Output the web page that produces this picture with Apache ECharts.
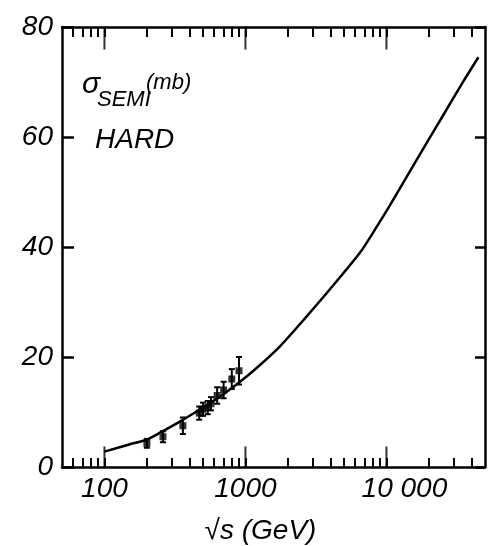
<!DOCTYPE html>
<html>
<head>
<meta charset="utf-8">
<script src="https://cdn.jsdelivr.net/npm/echarts@6/dist/echarts.min.js"></script>
<style>
  html, body { margin: 0; padding: 0; background: #fff; }
  #chart { width: 488px; height: 546px; }
</style>
</head>
<body>
<div id="chart"></div>
<script>
// curve: sigma_semi-hard (mb) vs sqrt(s) (GeV)
var curveX = [100, 150, 200, 250, 350, 450, 660, 915, 1200, 1750, 2700, 4000, 6500, 8500, 10600, 14700, 20000, 24000, 35100, 44900];
var curveY = [2.8, 4.1, 5.0, 6.3, 8.4, 10.1, 12.8, 15.5, 18.0, 21.9, 27.3, 32.4, 39.0, 43.6, 47.6, 53.8, 59.6, 63.0, 70.1, 74.5];

// measured points with error bars
var dataX = [200, 260, 360, 470, 500, 540, 570, 630, 700, 800, 900];
var dataY = [4.3, 5.5, 7.5, 9.8, 10.5, 10.8, 11.5, 13.0, 14.0, 16.0, 17.5];
var dataErr = [0.8, 1.0, 1.5, 1.2, 1.2, 1.2, 1.2, 1.5, 1.5, 1.8, 2.5];

// axis ticks
var xLabels = [100, 1000, 10000];
var majorTicks = [100, 1000, 10000];
var minorTicks = [60, 70, 80, 90, 200, 300, 400, 500, 600, 700, 800, 900,
                  2000, 3000, 4000, 5000, 6000, 7000, 8000, 9000, 20000, 30000, 40000];
var yMin = 0, yMax = 80;

var FONT = 'Liberation Sans';
var chart = echarts.init(document.getElementById('chart'));

var curveData = [];
for (var i = 0; i < curveX.length; i++) {
    curveData.push([curveX[i], curveY[i]]);
}
var pts = [];
for (var i = 0; i < dataX.length; i++) {
    pts.push([dataX[i], dataY[i], dataErr[i]]);
}
var majorBottom = [], majorTop = [];
for (var i = 0; i < majorTicks.length; i++) {
    majorBottom.push([majorTicks[i], yMin]);
    majorTop.push([majorTicks[i], yMax]);
}

// log x axis; pos = bottom/top, len = tick length
function logX(pos, len) {
    return {
        type: 'log',
        logBase: 10,
        min: 50,
        max: 50000,
        position: pos,
        splitLine: { show: false },
        axisLine: { show: true, onZero: false, lineStyle: { color: '#000', width: 2.5 } },
        axisTick: {
            show: true,
            inside: true,
            length: len,
            customValues: minorTicks.concat(majorTicks),
            lineStyle: { color: '#000', width: 2 }
        },
        axisLabel: { show: false }
    };
}
function valY(pos, len) {
    return {
        type: 'value',
        min: yMin,
        max: yMax,
        interval: 20,
        position: pos,
        splitLine: { show: false },
        axisLine: { show: true, onZero: false, lineStyle: { color: '#000', width: 2.5 } },
        axisTick: { inside: true, length: len, lineStyle: { color: '#000', width: 2.5 } },
        axisLabel: { show: false }
    };
}

var xBottom = logX('bottom', 9);
xBottom.name = '\u221As (GeV)';
xBottom.nameLocation = 'middle';
xBottom.nameGap = 50;
xBottom.nameTextStyle = {
    fontFamily: FONT, fontStyle: 'italic', fontSize: 28, color: '#000',
    padding: [0, 26, 0, 0]
};
xBottom.axisLabel = {
    customValues: xLabels,
    margin: 8,
    fontFamily: FONT,
    fontStyle: 'italic',
    fontSize: 28,
    color: '#000',
    formatter: function (v) {
        var r = Math.round(v);
        if (r === 10000) return '{w|10 000}';
        return String(r);
    },
    rich: {
        w: { fontFamily: FONT, fontStyle: 'italic', fontSize: 28, color: '#000', padding: [0, 0, 0, 36] }
    }
};

var yLeft = valY('left', 12);
yLeft.axisLabel = {
    margin: 9,
    fontFamily: FONT,
    fontStyle: 'italic',
    fontSize: 28,
    color: '#000'
};

var option = {
    backgroundColor: '#fff',
    animation: false,
    grid: { left: 62, right: 3, top: 27, bottom: 79, containLabel: false, outerBoundsMode: 'none' },
    xAxis: [xBottom, logX('top', 10)],
    yAxis: [yLeft, valY('right', 10)],
    graphic: [
        { type: 'text', left: 82, top: 70, style: { text: '\u03C3', font: 'italic 30px "Liberation Sans"', fill: '#000' } },
        { type: 'text', left: 97, top: 89, style: { text: 'SEMI', font: 'italic 22px "Liberation Sans"', fill: '#000' } },
        { type: 'text', left: 146, top: 72, style: { text: '(mb)', font: 'italic 22px "Liberation Sans"', fill: '#000' } },
        { type: 'text', left: 95, top: 126, style: { text: 'HARD', font: 'italic 28px "Liberation Sans"', fill: '#000' } }
    ],
    series: [
        {
            type: 'line',
            data: curveData,
            smooth: 0.25,
            showSymbol: false,
            lineStyle: { color: '#000', width: 2.5 }
        },
        {
            // error bars
            type: 'custom',
            data: pts,
            renderItem: function (params, api) {
                var x = api.value(0), y = api.value(1), e = api.value(2);
                var lo = api.coord([x, y - e]);
                var hi = api.coord([x, y + e]);
                var st = { stroke: '#000', lineWidth: 2 };
                return {
                    type: 'group',
                    children: [
                        { type: 'line', shape: { x1: lo[0], y1: lo[1], x2: hi[0], y2: hi[1] }, style: st },
                        { type: 'line', shape: { x1: lo[0] - 3, y1: lo[1], x2: lo[0] + 3, y2: lo[1] }, style: st },
                        { type: 'line', shape: { x1: hi[0] - 3, y1: hi[1], x2: hi[0] + 3, y2: hi[1] }, style: st }
                    ]
                };
            }
        },
        {
            type: 'scatter',
            data: pts,
            symbol: 'rect',
            symbolSize: 7,
            itemStyle: { color: '#000' }
        },
        {
            // long major ticks, bottom frame
            type: 'scatter',
            data: majorBottom,
            clip: false,
            symbol: 'rect',
            symbolSize: [2, 21],
            symbolOffset: [0, -10],
            itemStyle: { color: '#000' },
            silent: true
        },
        {
            // long major ticks, top frame
            type: 'scatter',
            data: majorTop,
            clip: false,
            symbol: 'rect',
            symbolSize: [2, 23],
            symbolOffset: [0, 11],
            itemStyle: { color: '#000' },
            silent: true
        }
    ]
};
chart.setOption(option);
</script>
</body>
</html>
